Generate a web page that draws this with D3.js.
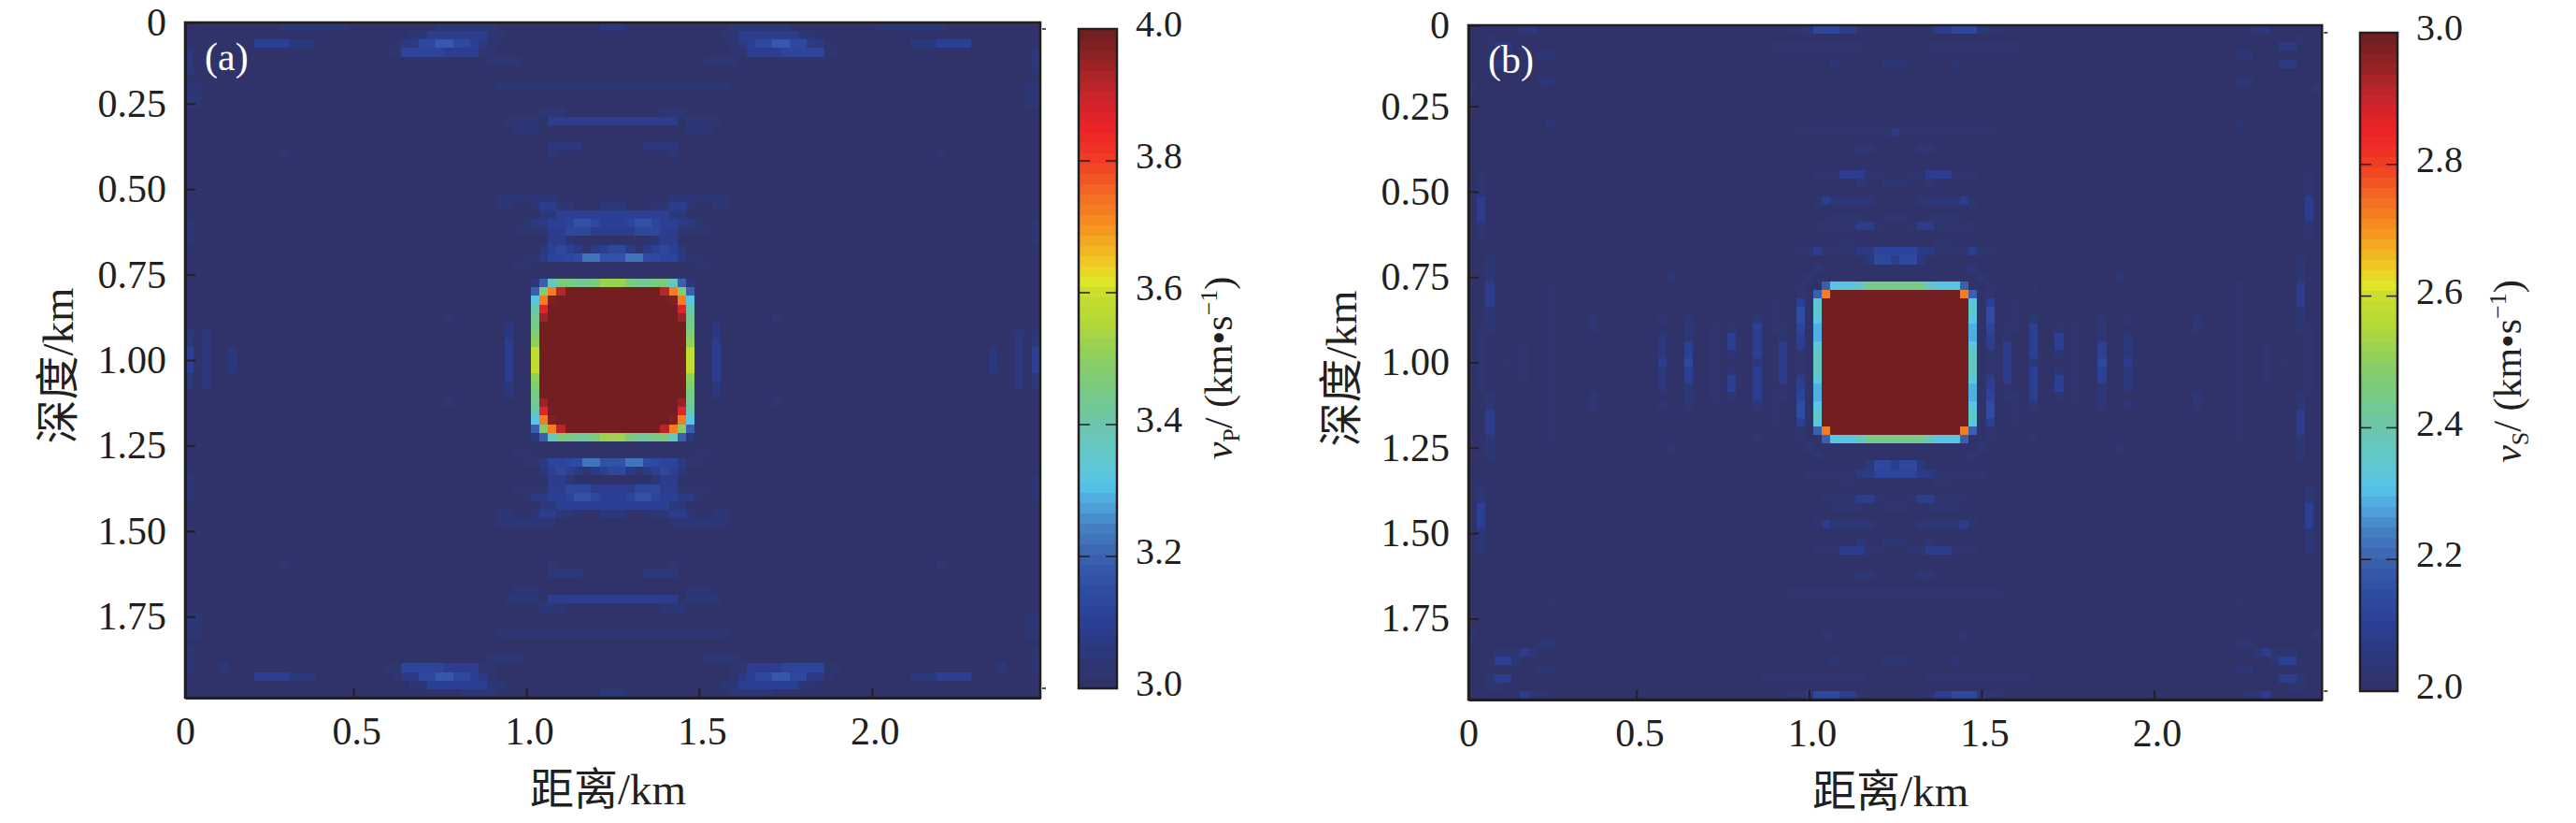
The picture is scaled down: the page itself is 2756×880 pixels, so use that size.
<!DOCTYPE html>
<html>
<head>
<meta charset="utf-8">
<script src="https://cdn.jsdelivr.net/npm/d3@7/dist/d3.min.js"></script>
<style>
  html, body { margin: 0; background: #fff; }
  text { font-family: "Liberation Serif", "Noto Sans CJK SC", serif; fill: #231f20; }
</style>
</head>
<body>
<svg id="chart" width="2756" height="880"></svg>
<script>
// model grid: 99 x 79 cells, 25 m apart
const nCols = 99;
const nRows = 79;
const cellKm = 0.025;
const xStartKm = 0.0125;

const xTickValues = [0.0125, 0.5, 1, 1.5, 2];
const xTickLabels = ['0', '0.5', '1.0', '1.5', '2.0'];
const yTickValues = [0.0125, 0.25, 0.5, 0.75, 1, 1.25, 1.5, 1.75];
const yTickLabels = ['0', '0.25', '0.50', '0.75', '1.00', '1.25', '1.50', '1.75'];

const rampStops = [0, 0.012, 0.03, 0.06, 0.1, 0.15, 0.2, 0.25, 0.28, 0.31, 0.35, 0.4, 0.45, 0.5, 0.56, 0.6, 0.62, 0.65, 0.7, 0.75, 0.8, 0.85, 0.9, 0.95, 1];
const rampColors = ['#30336a', '#30336a', '#2e3672', '#2c387e', '#2b4094', '#2f4ca3', '#3a61ae', '#4784c6', '#4ea6dc', '#55c5ea', '#62c7cc', '#6cc6ae', '#78cb85', '#8bcd61', '#b6d935', '#c9dc2d', '#e4e628', '#f0c423', '#f6931f', '#f46a23', '#f03d26', '#ed2327', '#c9252a', '#962326', '#6d1d20'];

// each entry: [rows], value, then pairs of first/last column
const vpBackground = 3.0;
const vpRuns = [
  [[0], 3.04, 11,18, 29,35, 63,69, 80,87],
  [[0], 3.05, 48,50],
  [[1,77], 3.04, 26,27, 35,36, 62,63, 71,72],
  [[1], 3.08, 28,34, 64,70],
  [[77], 3.1, 28,34, 64,70],
  [[2,76], 3.1, 8,11, 87,90],
  [[2,76], 3.05, 12,14, 84,86],
  [[2,76], 3.03, 24,24, 35,35, 63,63, 74,74],
  [[2,76], 3.07, 25,26, 34,34, 64,64, 72,73],
  [[2,76], 3.13, 27,28, 70,71],
  [[2,76], 3.18, 29,30, 68,69],
  [[2,76], 3.14, 31,32, 66,67],
  [[2,76], 3.1, 33,33, 65,65],
  [[3,75], 3.03, 23,24, 34,35, 63,64, 74,75],
  [[3,75], 3.12, 25,29, 69,73],
  [[3,75], 3.09, 30,33, 65,68],
  [[75], 3.05, 4,4, 94,94],
  [[4,74], 3.04, 35,38, 60,63],
  [[3,4,5], 3.05, 0,0, 98,98],
  [[7,8,9], 3.04, 0,1, 97,98],
  [[7,71], 3.04, 36,62],
  [[10,68], 3.04, 41,43, 55,57],
  [[11,67], 3.04, 37,40, 58,61],
  [[11,67], 3.08, 42,56],
  [[12,66], 3.04, 38,40, 58,60],
  [[14,64], 3.05, 42,45, 53,56],
  [[15,63], 3.04, 11,11, 42,42, 56,56, 87,87],
  [[20,58], 3.04, 36,42, 56,62],
  [[21,57], 3.04, 36,37, 40,40, 43,44, 54,55, 58,58, 61,62],
  [[21,57], 3.08, 41,42, 56,57],
  [[21,57], 3.05, 48,50],
  [[22,56], 3.05, 41,42, 56,57],
  [[22,56], 3.1, 43,55],
  [[23,55], 3.03, 39,39, 59,59],
  [[23,55], 3.07, 40,41, 57,58],
  [[23,55], 3.1, 42,43, 48,50, 55,56],
  [[23,55], 3.12, 44,44, 51,51, 54,54],
  [[23,55], 3.16, 45,46, 52,53],
  [[23,55], 3.13, 47,47],
  [[24,54], 3.03, 38,41, 57,60],
  [[24,54], 3.08, 42,43, 55,56],
  [[24,54], 3.13, 44,46, 52,54],
  [[24,54], 3.09, 47,51],
  [[25,53], 3.08, 42,43, 55,56],
  [[25,53], 3.04, 44,44, 54,54],
  [[26,52], 3.06, 41,41, 57,57],
  [[26,52], 3.1, 42,42, 44,44, 48,48, 54,54, 56,56],
  [[26,52], 3.13, 43,43, 49,50, 55,55],
  [[26,52], 3.07, 45,45, 47,47, 51,51, 53,53],
  [[26,52], 3.03, 46,46, 52,52],
  [[27,51], 3.03, 39,40, 58,59],
  [[27,51], 3.07, 41,41, 57,57],
  [[27,51], 3.11, 42,43, 55,56],
  [[27,51], 3.13, 44,44, 54,54],
  [[27,51], 3.15, 45,45, 53,53],
  [[27,51], 3.22, 46,47, 51,52],
  [[27,51], 3.17, 48,50],
  [[28,50], 3.03, 38,39, 59,60],
  [[23,24,25], 3.04, 0,0, 98,98],
  [[53,54,55], 3.04, 0,0, 98,98],
  [[34,44], 3.04, 30,30, 68,68],
  [[35,36,37,38,39,40,41,42,43], 3.05, 37,37, 61,61],
  [[37,38,39,40,41], 3.09, 37,37, 61,61],
  [[36,37,38,39,40,41,42], 3.05, 0,0, 2,2, 96,96, 98,98],
  [[38,39,40], 3.1, 0,0, 98,98],
  [[38,39,40], 3.05, 5,5, 93,93],
  [[69,70,71], 3.04, 0,1, 97,98],
  [[73,74,75], 3.04, 0,0, 98,98],
  [[78], 3.04, 32,35, 63,67],
  [[78], 3.05, 48,50],
  // anomaly body and its rim
  [[31,32,33,34,35,36,37,38,39,40,41,42,43,44,45,46,47], 4.0, 41,57],
  [[30,48], 3.05, 40,40, 58,58],
  [[30,48], 3.2, 41,41, 57,57],
  [[30,48], 3.36, 42,42, 56,56],
  [[30,48], 3.46, 43,44, 47,47, 51,51, 54,55],
  [[30,48], 3.43, 45,46, 52,53],
  [[30,48], 3.53, 48,50],
  [[31,47], 3.2, 40,40, 58,58],
  [[31,47], 3.47, 41,41, 57,57],
  [[31,47], 3.73, 42,42, 56,56],
  [[31,47], 3.92, 43,43, 55,55],
  [[32,46], 3.32, 40,40, 58,58],
  [[32,46], 3.72, 41,41, 57,57],
  [[32,46], 3.97, 42,42, 56,56],
  [[33,45], 3.4, 40,40, 58,58],
  [[33,45], 3.86, 41,41, 57,57],
  [[34,44], 3.43, 40,40, 58,58],
  [[34,44], 3.94, 41,41, 57,57],
  [[35,43], 3.45, 40,40, 58,58],
  [[36,42], 3.48, 40,40, 58,58],
  [[37,41], 3.51, 40,40, 58,58],
  [[38,39,40], 3.58, 40,40, 58,58]
];

const vsBackground = 2.0;
const vsRuns = [
  [[0], 2.06, 6,7, 91,92],
  [[0,78], 2.03, 37,38, 45,45, 53,53, 60,61],
  [[0,78], 2.06, 39,39, 59,59],
  [[0,78], 2.14, 40,42, 56,58],
  [[0,78], 2.08, 43,44, 54,55],
  [[1], 2.03, 2,2, 96,96],
  [[2], 2.07, 3,4, 94,95],
  [[2], 2.03, 35,45, 53,63],
  [[3], 2.04, 8,9, 89,90],
  [[4], 2.07, 3,3, 94,95],
  [[4,74], 2.04, 42,42, 48,50, 56,56],
  [[6], 2.04, 8,9, 89,90],
  [[7,71], 2.04, 0,0, 98,98],
  [[11], 2.04, 9,9, 89,89],
  [[12], 2.03, 38,48, 50,60],
  [[12], 2.07, 49,49],
  [[14,64], 2.04, 45,46, 52,53],
  [[17,61], 2.03, 40,42, 46,47, 51,52, 56,58],
  [[17,61], 2.09, 43,45, 53,55],
  [[18,60], 2.04, 45,45, 48,50, 53,53],
  [[20,58], 2.03, 40,40, 58,58],
  [[20,58], 2.09, 41,41, 57,57],
  [[20,58], 2.04, 42,46, 52,56],
  [[21,57], 2.03, 40,40, 58,58],
  [[22,56], 2.03, 42,45, 48,50, 53,56],
  [[23], 2.03, 40,44, 47,47, 51,51, 54,58],
  [[55], 2.03, 41,44, 47,47, 51,51, 54,57],
  [[23,55], 2.09, 45,46, 52,53],
  [[25,53], 2.03, 43,44, 54,55],
  [[26], 2.03, 38,39, 41,44, 54,57, 59,60],
  [[52], 2.03, 39,44, 54,59],
  [[26], 2.08, 40,40, 58,58],
  [[26,52], 2.07, 45,46, 52,53],
  [[26,52], 2.11, 47,51],
  [[27,51], 2.06, 46,46, 52,52],
  [[27,51], 2.13, 47,48, 50,51],
  [[27,51], 2.09, 49,49],
  [[28,50], 2.04, 40,40, 58,58],
  [[29,49], 2.04, 23,23, 39,39, 59,59, 75,75],
  [[30,48], 2.03, 33,33, 38,38, 60,60, 65,65],
  [[31,47], 2.03, 38,38, 60,60],
  // long vertical streaks either side of the body
  [[17,18,19,20,21,22,23,24], 2.03, 1,1, 97,97],
  [[20,21,22], 2.09, 1,1, 97,97],
  [[27,28,29,30,31,32,33,34,35], 2.04, 2,2, 96,96],
  [[30,31,32], 2.08, 2,2, 96,96],
  [[35,36,37,38,39,40,41,42], 2.03, 1,1, 97,97],
  [[43,44,45,46,47,48,49,50], 2.04, 2,2, 96,96],
  [[45,46,47], 2.09, 2,2, 96,96],
  [[54,55,56,57,58,59,60,61], 2.04, 1,1, 97,97],
  [[56,57,58], 2.1, 1,1, 97,97],
  [[39], 2.03, 4,4, 94,94],
  [[37,38,39,40,41], 2.03, 6,6, 92,92],
  [[30,31,32,33,34,35,36,37,38,39,40,41,42,43,44,45,46,47,48], 2.03, 9,9, 89,89],
  [[67], 2.03, 9,9, 89,89],
  [[34,35,43,44], 2.04, 14,14, 84,84],
  [[34,44], 2.04, 22,22, 76,76],
  [[36,37,38,40,41,42], 2.05, 22,22, 76,76],
  [[39], 2.09, 22,22, 76,76],
  [[34,35,36,42,43,44], 2.04, 25,25, 73,73],
  [[37,38,40,41], 2.1, 25,25, 73,73],
  [[39], 2.13, 25,25, 73,73],
  [[35,36,37,38,39,40,41,42,43], 2.03, 28,28, 70,70],
  [[35,43], 2.03, 30,30, 68,68],
  [[36,37,41,42], 2.1, 30,30, 68,68],
  [[38,40], 2.04, 30,30, 68,68],
  [[34,44], 2.04, 33,33, 65,65],
  [[35,36,37,38,40,41,42,43], 2.1, 33,33, 65,65],
  [[39], 2.05, 33,33, 65,65],
  [[32,33,34,35,43,44,45,46], 2.03, 35,35, 63,63],
  [[35,36,42,43], 2.03, 36,36, 62,62],
  [[37,38,39,40,41], 2.09, 36,36, 62,62],
  [[32,46], 2.1, 38,38, 60,60],
  [[33,34,44,45], 2.15, 38,38, 60,60],
  [[35,43], 2.12, 38,38, 60,60],
  [[36,42], 2.1, 38,38, 60,60],
  [[37,41], 2.08, 38,38, 60,60],
  [[38,39,40], 2.03, 38,38, 60,60],
  [[66], 2.03, 37,61],
  [[71], 2.04, 0,0, 41,41, 57,57, 98,98],
  [[72,75], 2.04, 8,9, 89,90],
  [[73], 2.03, 3,5, 93,95],
  [[73], 2.08, 6,6, 92,92],
  [[73], 2.04, 7,7, 91,91],
  [[74], 2.1, 3,4, 94,95],
  [[74], 2.04, 5,5, 93,93],
  [[76], 2.03, 34,45, 53,64],
  [[76], 2.04, 2,2, 96,96],
  [[76], 2.09, 3,4, 94,95],
  [[77], 2.03, 2,3, 95,96],
  [[78], 2.08, 6,6, 92,92],
  [[78], 2.04, 7,8, 90,91],
  // anomaly body and its rim
  [[31,32,33,34,35,36,37,38,39,40,41,42,43,44,45,46,47], 3.0, 41,57],
  [[30,48], 2.2, 41,41, 57,57],
  [[30,48], 2.32, 42,44, 54,56],
  [[30,48], 2.36, 45,45, 53,53],
  [[30,48], 2.44, 46,52],
  [[31,47], 2.2, 40,40, 58,58],
  [[31,47], 2.73, 41,41, 57,57],
  [[32,46], 2.33, 40,40, 58,58],
  [[33,45], 2.35, 40,40, 58,58],
  [[34,44], 2.32, 40,40, 58,58],
  [[35,36,42,43], 2.29, 40,40, 58,58],
  [[37,41], 2.33, 40,40, 58,58],
  [[38,39,40], 2.36, 40,40, 58,58]
];

const panels = [
  {
    letter: '(a)', runs: vpRuns, background: vpBackground, range: [3, 4],
    barTicks: [3, 3.2, 3.4, 3.6, 3.8, 4], unit: 'P',
    left: 198, right: 1113, top: 24, bottom: 746,
    barLeft: 1154, barRight: 1195, barTop: 31, barBottom: 736, barTitleX: 1318
  },
  {
    letter: '(b)', runs: vsRuns, background: vsBackground, range: [2, 3],
    barTicks: [2, 2.2, 2.4, 2.6, 2.8, 3], unit: 'S',
    left: 1571, right: 2484.3, top: 27, bottom: 748,
    barLeft: 2525, barRight: 2565, barTop: 35, barBottom: 739, barTitleX: 2697
  }
];

const ink = '#231f20';
const svg = d3.select('#chart');
const ramp = d3.scaleLinear().domain(rampStops).range(rampColors);
const levels = d3.range(64).map(i => ramp((i + 0.5) / 64));

/**
 * Turn the sparse runs into one value per cell
 */
function buildCells(panel) {
  const grid = d3.range(nRows).map(() => d3.range(nCols).map(() => panel.background));
  panel.runs.forEach(([rows, value, ...cols]) => {
    rows.forEach(r => {
      for (let k = 0; k < cols.length; k += 2) {
        for (let c = cols[k]; c <= cols[k + 1]; c++) grid[r][c] = value;
      }
    });
  });
  return d3.merge(grid.map((row, r) => row.map((value, c) => ({r, c, value}))));
}

function drawPanel(panel) {
  const x = d3.scaleLinear()
    .domain([xStartKm, xStartKm + nCols * cellKm])
    .range([panel.left, panel.right]);
  const y = d3.scaleLinear()
    .domain([xStartKm, xStartKm + nRows * cellKm])
    .range([panel.top, panel.bottom]);
  const color = d3.scaleQuantize().domain(panel.range).range(levels);

  const g = svg.append('g');

  g.append('g').attr('shape-rendering', 'crispEdges')
    .selectAll('rect')
    .data(buildCells(panel))
    .join('rect')
    .attr('x', d => x(xStartKm + d.c * cellKm))
    .attr('y', d => y(xStartKm + d.r * cellKm))
    .attr('width', d => x(xStartKm + (d.c + 1) * cellKm) - x(xStartKm + d.c * cellKm) + 0.5)
    .attr('height', d => y(xStartKm + (d.r + 1) * cellKm) - y(xStartKm + d.r * cellKm) + 0.5)
    .attr('fill', d => color(d.value));

  g.append('rect')
    .attr('x', panel.left).attr('y', panel.top)
    .attr('width', panel.right - panel.left).attr('height', panel.bottom - panel.top)
    .attr('fill', 'none').attr('stroke', ink).attr('stroke-width', 2.5);

  const xAxis = d3.axisBottom(x)
    .tickValues(xTickValues)
    .tickFormat((d, i) => xTickLabels[i])
    .tickSizeInner(-10).tickSizeOuter(0).tickPadding(20);
  const yAxis = d3.axisLeft(y)
    .tickValues(yTickValues)
    .tickFormat((d, i) => yTickLabels[i])
    .tickSizeInner(-11).tickSizeOuter(0).tickPadding(20);

  const xGroup = g.append('g').attr('transform', `translate(0,${panel.bottom})`).call(xAxis);
  const yGroup = g.append('g').attr('transform', `translate(${panel.left},0)`).call(yAxis);

  [xGroup, yGroup].forEach(axis => {
    axis.attr('font-family', null).attr('font-size', null);
    axis.select('.domain').attr('stroke', ink).attr('stroke-width', 3);
    axis.selectAll('line').attr('stroke', ink).attr('stroke-width', 2);
    axis.selectAll('text').attr('font-size', 42).attr('fill', ink);
  });
  // the printed x labels sit slightly right of their ticks, apart from the 0
  xGroup.selectAll('text').attr('dx', (d, i) => (i ? 3 : 0));

  g.append('text')
    .attr('x', panel.left + 21).attr('y', panel.top + 51)
    .attr('font-size', 42).style('fill', '#fff')
    .text(panel.letter);

  g.append('text')
    .attr('x', (panel.left + panel.right) / 2 - 5).attr('y', panel.bottom + 114)
    .attr('text-anchor', 'middle').attr('font-size', 47)
    .text('距离/km');

  g.append('text')
    .attr('transform', `translate(${panel.left - 120},${panel.top + 367}) rotate(-90)`)
    .attr('text-anchor', 'middle').attr('font-size', 47)
    .text('深度/km');

  drawColorBar(g, panel, color);
}

function drawColorBar(g, panel, color) {
  const bar = d3.scaleLinear().domain(panel.range).range([panel.barBottom, panel.barTop]);
  const step = (panel.range[1] - panel.range[0]) / levels.length;

  g.append('g').attr('shape-rendering', 'crispEdges')
    .selectAll('rect')
    .data(d3.range(levels.length).map(i => panel.range[0] + i * step))
    .join('rect')
    .attr('x', panel.barLeft)
    .attr('y', d => bar(d + step))
    .attr('width', panel.barRight - panel.barLeft)
    .attr('height', d => bar(d) - bar(d + step) + 0.5)
    .attr('fill', d => color(d + step / 2));

  g.append('rect')
    .attr('x', panel.barLeft).attr('y', panel.barTop)
    .attr('width', panel.barRight - panel.barLeft).attr('height', panel.barBottom - panel.barTop)
    .attr('fill', 'none').attr('stroke', ink).attr('stroke-width', 2.5);

  // inner ticks on both sides of the bar
  const inner = panel.barTicks.slice(1, -1);
  [[panel.barLeft, panel.barLeft + 12], [panel.barRight - 12, panel.barRight]].forEach(([a, b]) => {
    g.append('g').selectAll('line').data(inner).join('line')
      .attr('x1', a).attr('x2', b)
      .attr('y1', d => bar(d)).attr('y2', d => bar(d))
      .attr('stroke', ink).attr('stroke-width', 1.5);
  });

  // little stubs at the ends, also next to the map
  [panel.barTicks[0], panel.barTicks[5]].forEach(d => {
    g.append('line').attr('x1', panel.right + 2).attr('x2', panel.right + 6)
      .attr('y1', bar(d)).attr('y2', bar(d))
      .attr('stroke', '#555').attr('stroke-width', 2);
  });

  g.append('g').selectAll('text').data(panel.barTicks).join('text')
    .attr('x', panel.barRight + 20)
    .attr('y', d => bar(d) - 5)
    .attr('dy', '0.33em')
    .attr('font-size', 40)
    .text(d => d3.format('.1f')(d));

  const title = g.append('text')
    .attr('transform', `translate(${panel.barTitleX},${(panel.barTop + panel.barBottom) / 2 + 10}) rotate(-90)`)
    .attr('text-anchor', 'middle').attr('font-size', 42);
  title.append('tspan').attr('font-style', 'italic').text('v');
  title.append('tspan').attr('font-size', 26).attr('dy', 8).text(panel.unit);
  title.append('tspan').attr('dy', -8).text('/ (km•s');
  title.append('tspan').attr('font-size', 26).attr('dy', -16).text('−1');
  title.append('tspan').attr('dy', 16).text(')');
}

panels.forEach(drawPanel);
</script>
</body>
</html>
